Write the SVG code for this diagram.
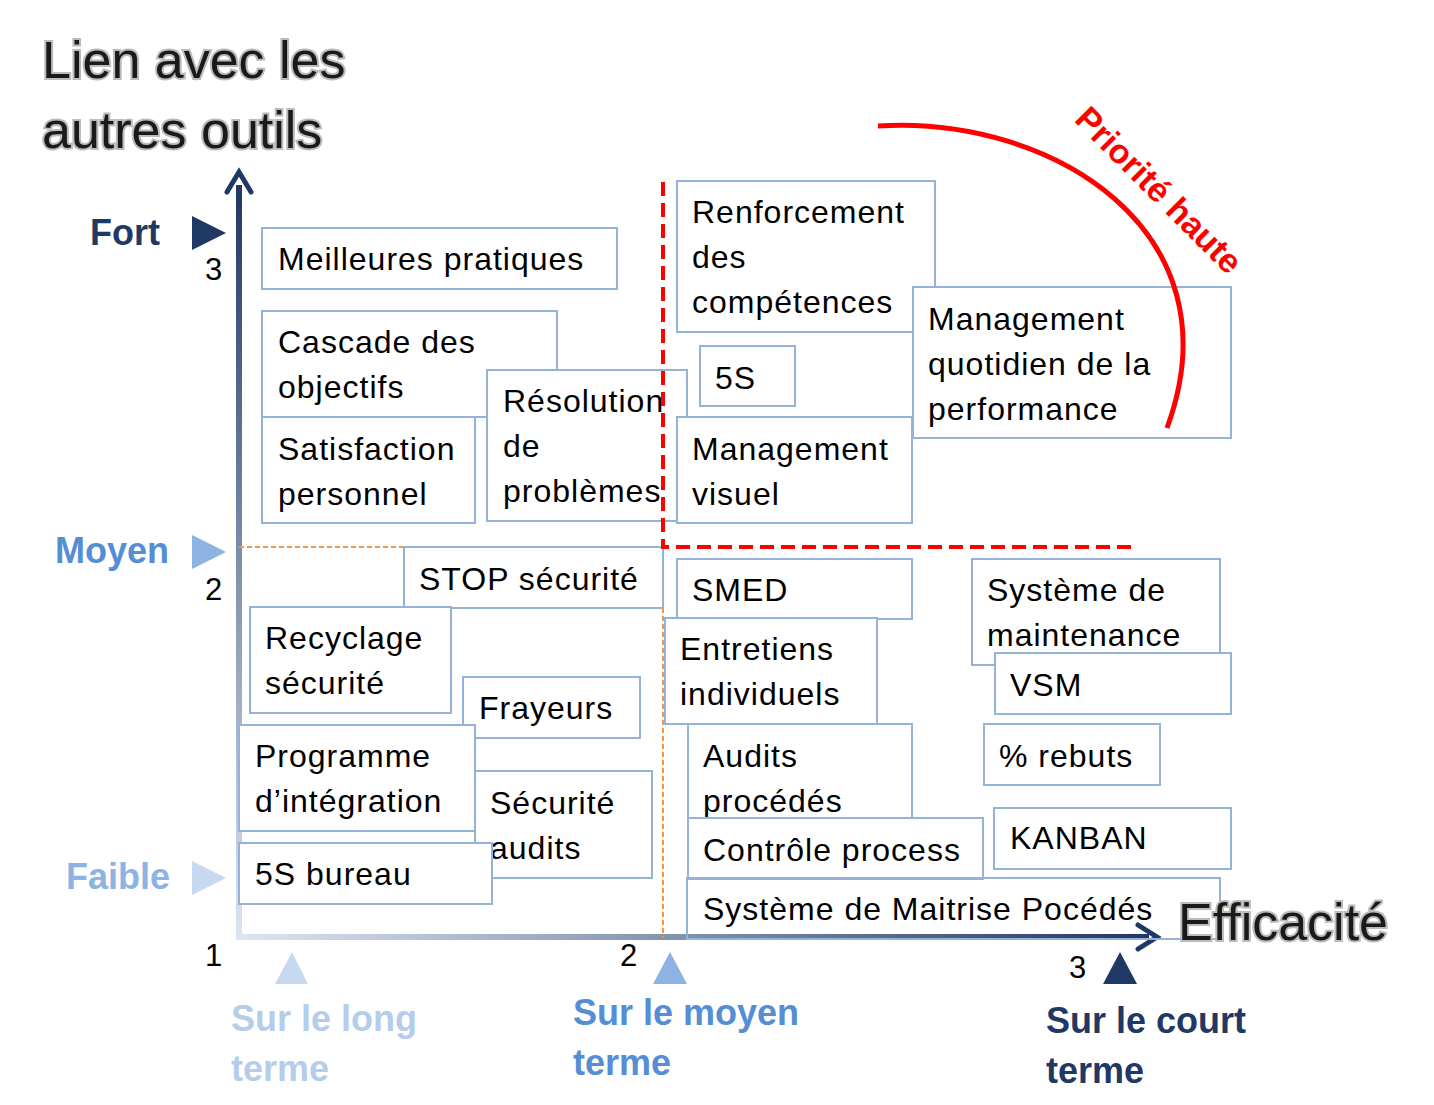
<svg xmlns="http://www.w3.org/2000/svg" width="1434" height="1105" viewBox="0 0 1434 1105">
<style>
.b{fill:#fff;stroke:#95B3D7;stroke-width:2}
.t{font-family:"Liberation Sans",Arial,sans-serif;font-size:32px;letter-spacing:1px;fill:#000}
.h{font-family:"Liberation Sans",Arial,sans-serif;font-size:52px;fill:#1a1a1a;stroke:#bbb;stroke-width:4;paint-order:stroke}
.lb{font-family:"Liberation Sans",Arial,sans-serif;font-size:36px;font-weight:bold}
.n{font-family:"Liberation Sans",Arial,sans-serif;font-size:31px;fill:#000}
</style>
<defs>
<linearGradient id="gv" x1="0" y1="1" x2="0" y2="0"><stop offset="0" stop-color="#DCE6F2"/><stop offset="1" stop-color="#1F3864"/></linearGradient>
<linearGradient id="gh" x1="0" y1="0" x2="1" y2="0"><stop offset="0" stop-color="#DCE6F2"/><stop offset="1" stop-color="#1F3864"/></linearGradient>
</defs>
<text class="h" x="42" y="78">Lien avec les</text>
<text class="h" x="42" y="148">autres outils</text>
<g id="axes">
<rect x="236" y="185" width="6" height="755" fill="url(#gv)"/>
<polyline points="227,192 239,172 251,192" fill="none" stroke="#1F3864" stroke-width="5" stroke-linecap="round"/>
<rect x="239" y="934" width="910" height="6" fill="url(#gh)"/>
<polyline points="1138,925 1157,937 1138,949" fill="none" stroke="#1F3864" stroke-width="5" stroke-linecap="round"/>
</g>
<g id="scale">
<text class="lb" x="90" y="245" fill="#1F3864">Fort</text>
<polygon points="192,216 226,233 192,250" fill="#1F3864"/>
<text class="n" x="205" y="280">3</text>
<text class="lb" x="55" y="563" fill="#558ED5">Moyen</text>
<polygon points="192,535 226,552 192,569" fill="#8DB3E2"/>
<text class="n" x="205" y="600">2</text>
<text class="lb" x="66" y="889" fill="#8DB3E2">Faible</text>
<polygon points="192,861 226,878 192,895" fill="#C6D9F1"/>
<text class="n" x="205" y="966">1</text>
<text class="n" x="620" y="966">2</text>
<text class="n" x="1069" y="978">3</text>
<polygon points="275,984 292,952 308,984" fill="#C6D9F1"/>
<polygon points="653,984 670,952 687,984" fill="#8DB3E2"/>
<polygon points="1103,984 1120,952 1137,984" fill="#1F3864"/>
<text class="lb" x="231" y="1031" fill="#B4CDEB">Sur le long</text>
<text class="lb" x="231" y="1081" fill="#B4CDEB">terme</text>
<text class="lb" x="573" y="1025" fill="#558ED5">Sur le moyen</text>
<text class="lb" x="573" y="1075" fill="#558ED5">terme</text>
<text class="lb" x="1046" y="1033" fill="#1F3864">Sur le court</text>
<text class="lb" x="1046" y="1083" fill="#1F3864">terme</text>
</g>
<g id="n1"><rect class="b" x="262" y="228" width="355" height="61"/><text class="t" x="278" y="270">Meilleures pratiques</text></g>
<g id="n2"><rect class="b" x="262" y="311" width="295" height="106"/><text class="t" x="278" y="353">Cascade des</text><text class="t" x="278" y="398">objectifs</text></g>
<g id="n3"><rect class="b" x="262" y="417" width="213" height="106"/><text class="t" x="278" y="460">Satisfaction</text><text class="t" x="278" y="505">personnel</text></g>
<g id="n4"><rect class="b" x="487" y="370" width="200" height="151"/><text class="t" x="503" y="412">Résolution</text><text class="t" x="503" y="457">de</text><text class="t" x="503" y="502">problèmes</text></g>
<g id="n5"><rect class="b" x="677" y="181" width="258" height="151"/><text class="t" x="692" y="223">Renforcement</text><text class="t" x="692" y="268">des</text><text class="t" x="692" y="313">compétences</text></g>
<g id="n6"><rect class="b" x="913" y="287" width="318" height="151"/><text class="t" x="928" y="330">Management</text><text class="t" x="928" y="375">quotidien de la</text><text class="t" x="928" y="420">performance</text></g>
<g id="n7"><rect class="b" x="700" y="346" width="95" height="60"/><text class="t" x="715" y="389">5S</text></g>
<g id="n8"><rect class="b" x="677" y="417" width="235" height="106"/><text class="t" x="692" y="460">Management</text><text class="t" x="692" y="505">visuel</text></g>
<g id="n9"><rect class="b" x="404" y="547" width="259" height="61"/><text class="t" x="419" y="590">STOP sécurité</text></g>
<g id="n10"><rect class="b" x="677" y="559" width="235" height="60"/><text class="t" x="692" y="601">SMED</text></g>
<g id="n11"><rect class="b" x="972" y="559" width="248" height="106"/><text class="t" x="987" y="601">Système de</text><text class="t" x="987" y="646">maintenance</text></g>
<g id="n12"><rect class="b" x="250" y="607" width="201" height="106"/><text class="t" x="265" y="649">Recyclage</text><text class="t" x="265" y="694">sécurité</text></g>
<g id="n13"><rect class="b" x="665" y="618" width="212" height="106"/><text class="t" x="680" y="660">Entretiens</text><text class="t" x="680" y="705">individuels</text></g>
<g id="n14"><rect class="b" x="995" y="653" width="236" height="61"/><text class="t" x="1010" y="696">VSM</text></g>
<g id="n15"><rect class="b" x="463" y="677" width="177" height="61"/><text class="t" x="479" y="719">Frayeurs</text></g>
<g id="n16"><rect class="b" x="239" y="725" width="236" height="106"/><text class="t" x="255" y="767">Programme</text><text class="t" x="255" y="812">d’intégration</text></g>
<g id="n17"><rect class="b" x="688" y="724" width="224" height="106"/><text class="t" x="703" y="767">Audits</text><text class="t" x="703" y="812">procédés</text></g>
<g id="n18"><rect class="b" x="984" y="724" width="176" height="61"/><text class="t" x="999" y="767">% rebuts</text></g>
<g id="n19"><rect class="b" x="475" y="771" width="177" height="107"/><text class="t" x="490" y="814">Sécurité</text><text class="t" x="490" y="859">audits</text></g>
<g id="n20"><rect class="b" x="994" y="808" width="237" height="61"/><text class="t" x="1010" y="849">KANBAN</text></g>
<g id="n21"><rect class="b" x="688" y="818" width="295" height="61"/><text class="t" x="703" y="861">Contrôle process</text></g>
<g id="n22"><rect class="b" x="239" y="843" width="253" height="61"/><text class="t" x="255" y="885">5S bureau</text></g>
<g id="n23"><rect class="b" x="687" y="878" width="533" height="61" fill-opacity="0"/><text class="t" x="703" y="920">Système de Maitrise Pocédés</text></g>
<g id="connectors">
<line x1="239" y1="547" x2="404" y2="547" stroke="#F79646" stroke-width="2" stroke-dasharray="5,3"/>
<line x1="663" y1="608" x2="663" y2="937" stroke="#F79646" stroke-width="2" stroke-dasharray="5,3"/>
<path d="M663,182 V547 H1137" fill="none" stroke="#FF0000" stroke-width="4" stroke-dasharray="14,7"/>
<path d="M878,126 C1050,115 1240,230 1167,428" fill="none" stroke="#FF0000" stroke-width="5"/>
</g>
<text transform="translate(1157,192) rotate(45)" text-anchor="middle" dominant-baseline="middle" font-family="Liberation Sans,Arial,sans-serif" font-size="34" font-weight="bold" fill="#FF0000">Priorité haute</text>
<text class="h" x="1178" y="940">Efficacité</text>
</svg>
